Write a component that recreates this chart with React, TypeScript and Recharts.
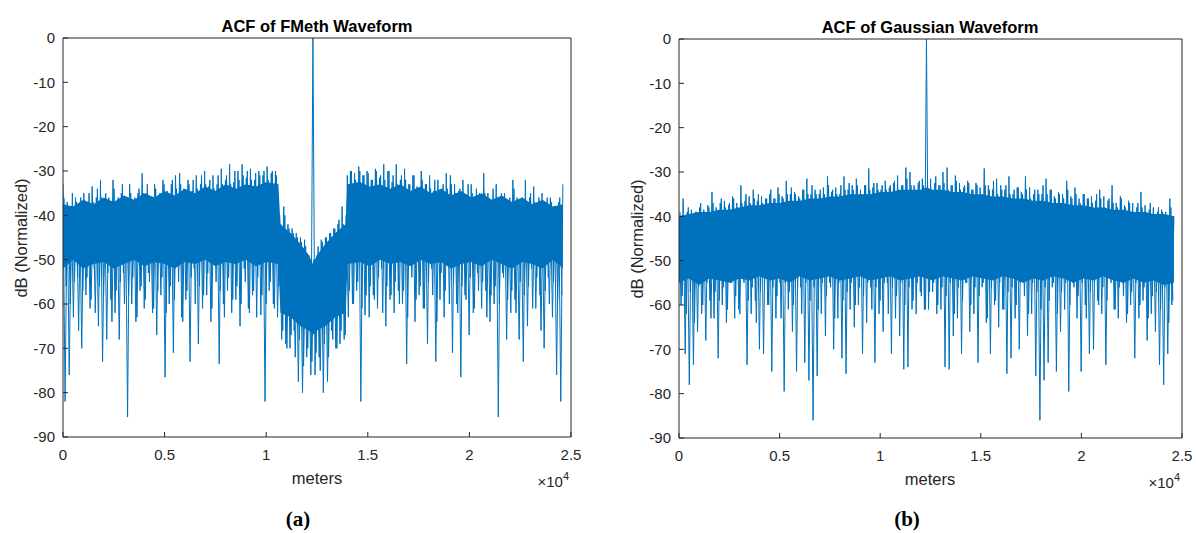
import { ComposedChart, Area, Line, XAxis, YAxis } from "recharts";

// sample spacing of the ACF lag axis (meters)
const SAMPLE_STEP_M = 102.5;

const X_TICKS = [0, 5000, 10000, 15000, 20000, 25000];
const Y_TICKS = [-90, -80, -70, -60, -50, -40, -30, -20, -10, 0];

// ACF of FMeth waveform, dB (normalized)
const fmethDb = [
  -33, -82, -37, -76, -38, -63, -36, -54, -37.5, -70,
  -35, -58, -37, -61, -33.5, -52, -36, -65, -32, -73,
  -37, -68, -36, -59, -32, -62, -37.5, -68, -35, -53,
  -36, -85.5, -33, -60, -37, -64, -35, -57, -30.5, -61,
  -35, -53, -36, -62, -33, -67, -35.5, -58, -32, -76.5,
  -34.5, -60, -33, -71, -31, -51, -30.5, -63, -34, -59,
  -32, -73, -34.5, -52, -31, -69, -33, -61, -30, -58,
  -33.5, -64, -31, -50, -33, -73.5, -29.5, -60, -32, -57,
  -28.5, -62, -32.5, -59, -30, -65, -28.5, -52, -31.5, -61,
  -29.5, -58, -32, -63, -30, -62.5, -31, -82, -29, -57,
  -30.5, -60, -30, -63, -40, -68, -38, -69, -42, -70,
  -43, -66, -44, -77.5, -45, -80, -45.5, -72, -49, -76,
  0,
  -76, -49, -72, -45.5, -80, -45, -77.5, -44, -66, -43,
  -70, -42, -69, -38, -68, -40, -63, -30, -60, -30.5,
  -57, -29, -82, -31, -62.5, -30, -63, -32, -58, -29.5,
  -61, -31.5, -52, -28.5, -65, -30, -59, -32.5, -62, -28.5,
  -57, -32, -60, -29.5, -73.5, -33, -50, -31, -64, -33.5,
  -58, -30, -61, -33, -69, -31, -52, -34.5, -73, -32,
  -59, -34, -63, -30.5, -51, -31, -71, -33, -60, -34.5,
  -76.5, -32, -58, -35.5, -67, -33, -62, -36, -53, -35,
  -61, -30.5, -57, -35, -64, -37, -60, -33, -85.5, -36,
  -53, -35, -68, -37.5, -62, -32, -59, -36, -68, -37,
  -73, -32, -65, -36, -52, -33.5, -61, -37, -58, -35,
  -70, -37.5, -54, -36, -63, -38, -76, -37, -82, -33,
];

// FMeth samples lying halfway between the ones above
const fmethDbHalf = [
  -36, -56, -38, -60, -35, -55, -37, -66, -36, -57,
  -38, -54, -35, -59, -37, -62, -34, -56, -36, -58,
  -35, -53, -37, -64, -34, -57, -36, -55, -33, -60,
  -37, -58, -35, -54, -36, -63, -34, -56, -35, -59,
  -33, -55, -36, -61, -34, -57, -35, -54, -33, -62,
  -35, -56, -32, -59, -34, -55, -33, -64, -35, -57,
  -33, -54, -32, -60, -34, -56, -31, -58, -33, -53,
  -32, -61, -34, -55, -31, -57, -33, -63, -31, -54,
  -33, -59, -30, -56, -32, -60, -31, -55, -30, -62,
  -32, -57, -30.5, -54, -31, -58, -30, -60, -32, -55,
  -30, -61, -31, -56, -42, -66, -40, -70, -43, -67,
  -44, -72, -45, -68, -46, -74, -47, -70, -50, -73,
  -50, -71, -47, -75, -46, -69, -45, -72, -44, -68,
  -43, -70, -41, -66, -42, -67, -31, -57, -30, -60,
  -32, -55, -30, -61, -31, -58, -30.5, -56, -32, -59,
  -30, -54, -31, -62, -32, -56, -30, -58, -31, -55,
  -33, -60, -31, -57, -32, -63, -33, -54, -31, -59,
  -34, -56, -32, -61, -33, -55, -34, -58, -32, -64,
  -35, -53, -33, -57, -34, -60, -33, -55, -35, -62,
  -34, -56, -36, -59, -33, -54, -35, -61, -34, -57,
  -36, -55, -35, -63, -37, -58, -34, -56, -36, -60,
  -35, -54, -37, -59, -36, -57, -34, -62, -37, -55,
  -36, -58, -38, -56, -35, -61, -37, -54, -36, -66,
  -38, -57, -36, -60, -37, -55, -38, -59, -36, -58,
];

// dense (solid) part of the FMeth trace: lag (m), lower and upper edge (dB)
const fmethBandM = [
  0, 500, 1000, 1500, 2000, 2500, 3000, 3500, 4000, 4500, 5000, 5500, 6000, 6500, 7000, 7500, 8000, 8500, 9000, 9500, 10000, 10600,
  10700, 11200, 11700, 12100, 12300, 12500, 12900, 13400, 13900,
  14000, 14600, 15100, 15600, 16100, 16600, 17100, 17600, 18100, 18600, 19100, 19600, 20100, 20600, 21100, 21600, 22100, 22600, 23100, 23600, 24100, 24600,
];
const fmethBandLow = [
  -52, -50, -52, -51, -50.5, -52, -51, -50, -51.5, -50.5, -51, -52, -50.5, -51, -50, -51.5, -50.5, -51, -50, -51.5, -50.5, -51,
  -62, -63, -65, -66, -67, -66, -65, -63, -62,
  -51, -50.5, -51.5, -50, -51, -50.5, -51.5, -50, -51, -50.5, -52, -51, -50.5, -51.5, -50, -51, -52, -50.5, -51, -52, -50, -52,
];
const fmethBandHigh = [
  -37.5, -38, -36.5, -37.5, -36, -37, -35.5, -36.5, -35, -36, -34.5, -35.5, -34, -35, -33.5, -34.5, -33, -34, -33, -33.5, -32.5, -33,
  -42, -44, -46.5, -49, -51, -49, -46.5, -44, -42,
  -33, -32.5, -33.5, -33, -34, -33, -34.5, -33.5, -35, -34, -35.5, -34.5, -36, -35, -36.5, -35.5, -37, -36, -37.5, -36.5, -38, -37.5,
];

// ACF of Gaussian waveform, dB (normalized)
const gaussDb = [
  -40, -60, -36, -71, -39, -78, -38.5, -73.5, -39, -66,
  -38, -62, -38.5, -68, -37.5, -59, -34.5, -63, -38, -72,
  -37, -60, -36.5, -64, -37.5, -55, -35.5, -63, -37, -61,
  -33, -54, -36.5, -73.5, -35.5, -62, -34, -59, -36.5, -70,
  -35.5, -71, -36, -60, -35, -75, -36, -63, -33.5, -55,
  -35.5, -79.5, -32, -61, -35, -66, -34.5, -75, -35.5, -56,
  -34, -73, -31.5, -77, -35, -86, -34, -76, -35, -62,
  -33.5, -67, -31, -55, -34.5, -70, -33.5, -63, -35, -72,
  -31, -75.5, -34, -61, -33, -65, -31.5, -60, -34, -71,
  -33, -64, -29.2, -56, -33.5, -73, -32.5, -62, -34, -66,
  -32, -55, -33.5, -71, -32.5, -63, -30.8, -67, -33, -74.5,
  -29, -74, -30, -61, -33, -62, -32.5, -57, -31.5, -61,
  0,
  -61, -31.5, -57, -32.5, -62, -33, -61, -30, -74, -29,
  -74.5, -33, -67, -30.8, -63, -32.5, -71, -33.5, -55, -32,
  -66, -34, -62, -32.5, -73, -33.5, -56, -29.2, -64, -33,
  -71, -34, -60, -31.5, -65, -33, -61, -34, -75.5, -31,
  -72, -35, -63, -33.5, -70, -34.5, -55, -31, -67, -33.5,
  -62, -35, -76, -34, -86, -35, -77, -31.5, -73, -34,
  -56, -35.5, -75, -34.5, -66, -35, -61, -32, -79.5, -35.5,
  -55, -33.5, -63, -36, -75, -35, -60, -36, -71, -35.5,
  -70, -36.5, -59, -34, -62, -35.5, -73.5, -36.5, -54, -33,
  -61, -37, -63, -35.5, -55, -37.5, -64, -36.5, -60, -37,
  -72, -38, -63, -34.5, -59, -37.5, -68, -38.5, -62, -38,
  -66, -39, -73.5, -38.5, -78, -39, -71, -36, -60, -40,
];

// Gaussian samples lying halfway between the ones above
const gaussDbHalf = [
  -39, -58, -41, -62, -38, -57, -40, -64, -39, -56,
  -37, -60, -39, -55, -38, -63, -37, -57, -39, -59,
  -36, -56, -38, -61, -37, -55, -36, -58, -38, -62,
  -37, -55, -35, -59, -37, -56, -36, -64, -35, -57,
  -37, -55, -36, -60, -34, -56, -36, -58, -35, -63,
  -36, -55, -35, -57, -33.5, -60, -35, -56, -36, -62,
  -34, -55, -35, -59, -33, -56, -35, -61, -34, -55,
  -35, -58, -33, -56, -34, -63, -35, -55, -33, -59,
  -34, -57, -32.5, -55, -34, -60, -33, -56, -35, -58,
  -33, -55, -34, -61, -32.5, -56, -34, -59, -33, -55,
  -34, -62, -33, -56, -32, -58, -34, -55, -33, -60,
  -31.5, -56, -33, -59, -34, -55, -32, -58, -33, -61,
  -32, -57, -34, -55, -31, -60, -33, -56, -32.5, -58,
  -34, -55, -33, -62, -32, -56, -34, -59, -33, -55,
  -32.5, -60, -34, -56, -33, -58, -35, -55, -33, -63,
  -34, -56, -32, -59, -35, -55, -34, -61, -33, -57,
  -35, -56, -34, -60, -33.5, -55, -35, -58, -34, -62,
  -36, -55, -34, -57, -35, -61, -33, -56, -35, -59,
  -34, -55, -36, -62, -35, -57, -36, -55, -34, -60,
  -36, -56, -35, -58, -37, -55, -35, -63, -36, -57,
  -37, -55, -35, -60, -36, -56, -38, -59, -36, -55,
  -37, -61, -38, -56, -36, -58, -38, -62, -37, -57,
  -39, -55, -37, -60, -38, -56, -39, -63, -37, -58,
  -40, -57, -38, -61, -39, -56, -40, -64, -38, -59,
];

// dense part of the Gaussian trace
const gaussBandM = [
  0, 500, 1000, 1500, 2000, 2500, 3000, 3500, 4000, 4500, 5000, 5500, 6000, 6500, 7000, 7500, 8000, 8500, 9000, 9500, 10000, 10500, 11000, 11500, 12000,
  12300,
  12600, 13100, 13600, 14100, 14600, 15100, 15600, 16100, 16600, 17100, 17600, 18100, 18600, 19100, 19600, 20100, 20600, 21100, 21600, 22100, 22600, 23100, 23600, 24100, 24600,
];
const gaussBandLow = [
  -55, -54, -55.5, -54, -54.5, -55, -54, -54.5, -53.5, -54.5, -54, -55, -53.5, -54.5, -54, -53.5, -54.5, -54, -53.5, -54.5, -54, -53.5, -54.5, -54, -53.5,
  -54,
  -54.5, -53.5, -54, -54.5, -53.5, -54, -54.5, -53.5, -54, -55, -54, -54.5, -53.5, -54, -55, -54, -54.5, -53.5, -54.5, -55, -54, -55, -54.5, -55.5, -55,
];
const gaussBandHigh = [
  -40, -39.5, -39, -39, -38.5, -38.5, -38, -37.5, -37.5, -37, -37, -36.5, -36.5, -36, -36, -35.5, -35.5, -35, -35, -35, -34.5, -34.5, -34, -34, -34,
  -33.5,
  -34, -34, -34.5, -34.5, -35, -35, -35.5, -35.5, -36, -36, -36.5, -36.5, -37, -37, -37.5, -37.5, -38, -38, -38.5, -38.5, -39, -39, -39.5, -39.5, -40,
];

const AXIS_COLOR = "#262626";
const LINE_COLOR = "#0072BD";
const FONT = '"Liberation Sans", Arial, Helvetica, sans-serif';

const toRows = (values: number[], offset: number) =>
  values.map((db, i) => ({ m: (i + offset) * SAMPLE_STEP_M, db }));

const toBand = (m: number[], low: number[], high: number[]) =>
  m.map((x, i) => ({ m: x, band: [low[i], high[i]] }));

interface PanelProps {
  values: number[];
  halfValues: number[];
  band: { m: number; band: number[] }[];
  left: number;
  width: number;
  yAxisWidth: number;
  right: number;
  top: number;
  bottom: number;
}

function AcfPanel({ values, halfValues, band, left, width, yAxisWidth, right, top, bottom }: PanelProps) {
  const tickStyle = { fill: AXIS_COLOR, fontSize: 15, fontFamily: FONT };
  return (
    <div style={{ position: "absolute", left, top: 0 }}>
      <ComposedChart
        width={width}
        height={533}
        data={toRows(values, 0)}
        margin={{ top, right, bottom, left: 0 }}
      >
        <XAxis
          xAxisId="bottom"
          dataKey="m"
          type="number"
          domain={[0, 25000]}
          ticks={X_TICKS}
          interval={0}
          allowDataOverflow
          tickFormatter={(v: number) => String(v / 10000)}
          tickSize={-5}
          tickMargin={17}
          height={30}
          stroke={AXIS_COLOR}
          tick={tickStyle}
        />
        <XAxis
          xAxisId="top"
          orientation="top"
          dataKey="m"
          type="number"
          domain={[0, 25000]}
          ticks={X_TICKS}
          interval={0}
          allowDataOverflow
          tick={false}
          tickSize={-5}
          height={1}
          stroke={AXIS_COLOR}
        />
        <YAxis
          yAxisId="left"
          type="number"
          domain={[-90, 0]}
          ticks={Y_TICKS}
          interval={0}
          allowDataOverflow
          tickSize={-5}
          tickMargin={13}
          width={yAxisWidth}
          stroke={AXIS_COLOR}
          tick={tickStyle}
        />
        <YAxis
          yAxisId="right"
          orientation="right"
          type="number"
          domain={[-90, 0]}
          ticks={Y_TICKS}
          interval={0}
          allowDataOverflow
          tick={false}
          tickSize={-5}
          width={1}
          stroke={AXIS_COLOR}
        />
        <Area
          xAxisId="bottom"
          yAxisId="left"
          data={band}
          type="linear"
          dataKey="band"
          stroke="none"
          fill={LINE_COLOR}
          fillOpacity={1}
          dot={false}
          activeDot={false}
          isAnimationActive={false}
        />
        <Line
          xAxisId="bottom"
          yAxisId="left"
          data={toRows(halfValues, 0.5)}
          type="linear"
          dataKey="db"
          stroke={LINE_COLOR}
          strokeWidth={1}
          dot={false}
          activeDot={false}
          isAnimationActive={false}
        />
        <Line
          xAxisId="bottom"
          yAxisId="left"
          type="linear"
          dataKey="db"
          stroke={LINE_COLOR}
          strokeWidth={1}
          dot={false}
          activeDot={false}
          isAnimationActive={false}
        />
      </ComposedChart>
    </div>
  );
}

export default function App() {
  const label = { fill: AXIS_COLOR, fontSize: 16.5, fontFamily: FONT };
  return (
    <div
      style={{
        position: "absolute",
        left: 0,
        top: 0,
        width: 1196,
        height: 533,
        background: "#fff",
        overflow: "hidden",
      }}
    >
      <AcfPanel
        values={fmethDb}
        halfValues={fmethDbHalf}
        band={toBand(fmethBandM, fmethBandLow, fmethBandHigh)}
        left={0}
        width={600}
        yAxisWidth={63}
        right={28}
        top={37}
        bottom={66}
      />
      <AcfPanel
        values={gaussDb}
        halfValues={gaussDbHalf}
        band={toBand(gaussBandM, gaussBandLow, gaussBandHigh)}
        left={600}
        width={596}
        yAxisWidth={79}
        right={13}
        top={38}
        bottom={65}
      />

      <svg
        width={1196}
        height={533}
        style={{ position: "absolute", left: 0, top: 0, pointerEvents: "none" }}
      >
        {/* panel (a) */}
        <text x={317} y={32} textAnchor="middle" fontWeight="bold" fontSize={16.5} fontFamily={FONT} fill="#000">
          ACF of FMeth Waveform
        </text>
        <text x={21} y={238} textAnchor="middle" dominantBaseline="central" transform="rotate(-90 21 238)" {...label}>
          dB (Normalized)
        </text>
        <text x={317} y={484} textAnchor="middle" {...label}>
          meters
        </text>
        <text x={569} y={487} textAnchor="end" fill={AXIS_COLOR} fontSize={15} fontFamily={FONT}>
          ×10<tspan dy={-7} fontSize={11}>4</tspan>
        </text>
        <text x={298} y={526} textAnchor="middle" fontWeight="bold" fontSize={21} fontFamily='"Liberation Serif", "DejaVu Serif", serif' fill="#000">
          (a)
        </text>

        {/* panel (b) */}
        <text x={930} y={33} textAnchor="middle" fontWeight="bold" fontSize={16.5} fontFamily={FONT} fill="#000">
          ACF of Gaussian Waveform
        </text>
        <text x={637} y={239} textAnchor="middle" dominantBaseline="central" transform="rotate(-90 637 239)" {...label}>
          dB (Normalized)
        </text>
        <text x={930} y={485} textAnchor="middle" {...label}>
          meters
        </text>
        <text x={1180} y={488} textAnchor="end" fill={AXIS_COLOR} fontSize={15} fontFamily={FONT}>
          ×10<tspan dy={-7} fontSize={11}>4</tspan>
        </text>
        <text x={907} y={526} textAnchor="middle" fontWeight="bold" fontSize={21} fontFamily='"Liberation Serif", "DejaVu Serif", serif' fill="#000">
          (b)
        </text>
      </svg>
    </div>
  );
}
